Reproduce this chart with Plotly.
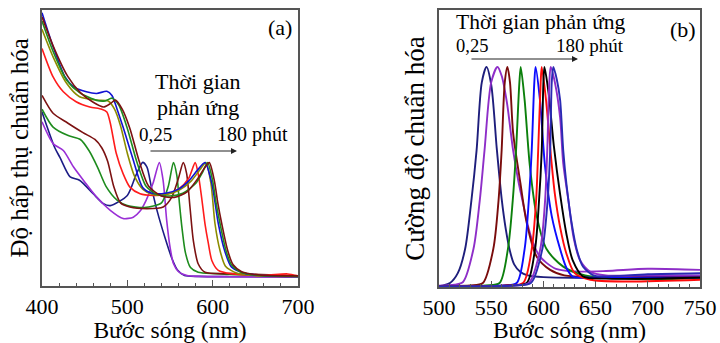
import plotly.graph_objects as go

FONT = "Liberation Serif"
W, H = 720, 343

# ---------------- Panel (a): absorption spectra ----------------
a_navy_x = [400, 415, 421, 433, 444, 460, 472, 480, 500, 510, 518, 523, 528, 535, 544, 552, 559, 567, 583, 620, 660, 700]
a_navy_y = [0.63, 0.50, 0.465, 0.394, 0.382, 0.333, 0.297, 0.29, 0.327, 0.40, 0.447, 0.43, 0.36, 0.27, 0.175, 0.10, 0.055, 0.036, 0.033, 0.032, 0.032, 0.03]

a_purple_x = [400, 413, 425, 437, 450, 464, 480, 495, 507, 515, 522, 530, 537.5, 542, 546, 550, 554, 560, 570, 585, 620, 700]
a_purple_y = [0.594, 0.515, 0.49, 0.43, 0.376, 0.321, 0.273, 0.243, 0.248, 0.27, 0.309, 0.37, 0.446, 0.38, 0.24, 0.14, 0.08, 0.05, 0.036, 0.033, 0.032, 0.03]

a_green_x = [400, 413, 430, 445, 455, 465, 475, 488, 500, 520, 540, 548, 554, 558, 561, 564, 568, 574, 583, 603, 640, 700]
a_green_y = [0.64, 0.575, 0.545, 0.53, 0.49, 0.43, 0.36, 0.31, 0.29, 0.283, 0.30, 0.36, 0.446, 0.40, 0.30, 0.21, 0.12, 0.065, 0.048, 0.043, 0.038, 0.033]

a_brown_x = [400, 413, 430, 448, 462, 470, 477, 484, 492, 503, 523, 542, 552, 560, 565.5, 569.5, 573.4, 577.3, 583, 591, 622, 700]
a_brown_y = [0.69, 0.625, 0.59, 0.555, 0.53, 0.50, 0.45, 0.36, 0.30, 0.285, 0.279, 0.285, 0.32, 0.39, 0.446, 0.406, 0.285, 0.164, 0.079, 0.048, 0.043, 0.035]

a_red_x = [400, 413, 425, 440, 456, 470, 476, 480, 487, 495, 503, 515, 530, 545, 560, 572, 579.5, 583, 587, 591, 595, 599, 606.6, 622, 660, 688, 700]
a_red_y = [0.86, 0.757, 0.703, 0.667, 0.648, 0.64, 0.63, 0.59, 0.48, 0.406, 0.357, 0.333, 0.327, 0.33, 0.35, 0.39, 0.446, 0.406, 0.321, 0.224, 0.152, 0.091, 0.055, 0.043, 0.038, 0.042, 0.035]

a_blue_x = [400, 413, 427, 437, 452, 464, 476, 482, 488, 495, 507, 518, 529, 545, 560, 572, 582, 591, 599, 606.6, 614, 622, 638, 661, 700]
a_blue_y = [0.99, 0.867, 0.757, 0.721, 0.703, 0.697, 0.705, 0.69, 0.64, 0.575, 0.455, 0.356, 0.335, 0.335, 0.35, 0.38, 0.418, 0.446, 0.371, 0.225, 0.127, 0.067, 0.044, 0.036, 0.033]

a_olive_x = [400, 413, 429, 444, 464, 478, 485, 492, 500, 508, 518, 530, 545, 560, 575, 585, 592, 598, 602.7, 608.6, 615, 628, 650, 700]
a_olive_y = [0.93, 0.83, 0.733, 0.685, 0.673, 0.669, 0.64, 0.58, 0.48, 0.40, 0.35, 0.33, 0.33, 0.345, 0.38, 0.42, 0.446, 0.37, 0.225, 0.127, 0.07, 0.045, 0.036, 0.033]

a_green2_x = [400, 413, 429, 444, 464, 474, 482, 490, 500, 511, 522, 535, 550, 565, 580, 588, 594, 600, 604, 608.6, 615.6, 622, 632, 650, 700]
a_green2_y = [0.96, 0.85, 0.745, 0.70, 0.672, 0.67, 0.68, 0.655, 0.57, 0.45, 0.36, 0.33, 0.325, 0.335, 0.37, 0.41, 0.446, 0.38, 0.30, 0.225, 0.127, 0.075, 0.05, 0.038, 0.033]

a_brown2_x = [400, 413, 430, 445, 460, 472, 480, 486, 494, 503, 514, 525, 540, 555, 570, 583, 590, 596, 602, 606, 610.6, 617.6, 624, 634, 655, 700]
a_brown2_y = [0.975, 0.87, 0.76, 0.70, 0.665, 0.648, 0.66, 0.673, 0.64, 0.57, 0.45, 0.36, 0.325, 0.32, 0.34, 0.39, 0.425, 0.446, 0.38, 0.30, 0.225, 0.127, 0.075, 0.05, 0.038, 0.035]

panel_a = [
    (a_navy_x, a_navy_y, "#1c1c86"),
    (a_purple_x, a_purple_y, "#9a2fd6"),
    (a_green_x, a_green_y, "#1e8c1e"),
    (a_brown_x, a_brown_y, "#7c1212"),
    (a_red_x, a_red_y, "#ff1c1c"),
    (a_olive_x, a_olive_y, "#8c8c00"),
    (a_blue_x, a_blue_y, "#1212d2"),
    (a_green2_x, a_green2_y, "#1e8c1e"),
    (a_brown2_x, a_brown2_y, "#7c1212"),
]

# ---------------- Panel (b): emission spectra ----------------
b_navy_x = [500, 503, 510.5, 518, 525, 531, 536, 541, 545.5, 550, 555.3, 560, 564, 568, 572, 578, 585, 600, 650, 700, 750]
b_navy_y = [0.0, 0.003, 0.015, 0.06, 0.17, 0.39, 0.62, 0.93, 1.0, 0.92, 0.63, 0.40, 0.26, 0.16, 0.10, 0.065, 0.05, 0.042, 0.04, 0.05, 0.045]

b_purple_x = [500, 515, 523, 533, 539, 543.6, 550, 556, 560, 565, 571, 576, 580, 585, 590, 596, 603, 612, 630, 660, 700, 750]
b_purple_y = [0.003, 0.008, 0.02, 0.17, 0.39, 0.62, 0.93, 1.0, 0.96, 0.84, 0.62, 0.48, 0.39, 0.28, 0.20, 0.14, 0.107, 0.08, 0.068, 0.07, 0.08, 0.075]

b_brown_x = [500, 530, 542, 552, 557, 560, 563, 565.5, 568, 571, 578, 584, 593.6, 606.5, 620, 650, 700, 750]
b_brown_y = [0.002, 0.004, 0.015, 0.17, 0.39, 0.62, 0.93, 1.0, 0.93, 0.70, 0.47, 0.29, 0.135, 0.075, 0.05, 0.042, 0.045, 0.045]

b_green_x = [500, 545, 558, 566, 570.6, 573.8, 577, 578.3, 582, 587, 593.6, 603, 619, 640, 700, 750]
b_green_y = [0.0, 0.004, 0.015, 0.17, 0.39, 0.62, 0.93, 1.0, 0.85, 0.55, 0.32, 0.17, 0.09, 0.05, 0.032, 0.038]

b_blue_x = [500, 560, 574.4, 582, 586, 588.8, 591.3, 592.5, 596.7, 601.5, 608, 616, 622, 628, 640, 700, 750]
b_blue_y = [0.0, 0.004, 0.015, 0.17, 0.39, 0.62, 0.93, 1.0, 0.85, 0.55, 0.32, 0.17, 0.085, 0.045, 0.04, 0.04, 0.04]

b_red_x = [500, 565, 580.5, 588.8, 593, 595, 597.4, 598.4, 602.5, 607.5, 611, 616, 622, 630, 645, 680, 750]
b_red_y = [0.0, 0.004, 0.015, 0.17, 0.39, 0.62, 0.93, 1.0, 0.85, 0.58, 0.42, 0.27, 0.15, 0.06, 0.03, 0.022, 0.03]

b_black_x = [500, 568, 584, 592, 595.8, 598.4, 600, 601, 605, 610, 616, 622, 628, 638, 660, 700, 750]
b_black_y = [0.0, 0.004, 0.015, 0.17, 0.39, 0.62, 0.93, 1.0, 0.88, 0.64, 0.42, 0.24, 0.12, 0.045, 0.035, 0.035, 0.04]

b_purple2_x = [500, 570, 586, 597, 601.6, 603.7, 605.7, 607, 611, 616, 619, 624, 629, 635, 645, 660, 700, 750]
b_purple2_y = [0.0, 0.004, 0.015, 0.17, 0.39, 0.62, 0.93, 1.0, 0.93, 0.77, 0.56, 0.39, 0.22, 0.12, 0.066, 0.05, 0.05, 0.05]

b_blue2_x = [500, 572, 588, 599, 604, 606.5, 608, 609.5, 613, 616, 619, 622, 627, 632, 638, 648, 657, 700, 750]
b_blue2_y = [0.0, 0.004, 0.015, 0.17, 0.39, 0.62, 0.93, 1.0, 0.94, 0.85, 0.62, 0.47, 0.29, 0.167, 0.089, 0.05, 0.045, 0.055, 0.06]

panel_b = [
    (b_navy_x, b_navy_y, "#1e1e7c"),
    (b_purple_x, b_purple_y, "#8e2ec8"),
    (b_brown_x, b_brown_y, "#7a0c0c"),
    (b_green_x, b_green_y, "#0c800c"),
    (b_blue_x, b_blue_y, "#0c0cff"),
    (b_red_x, b_red_y, "#ff0c0c"),
    (b_black_x, b_black_y, "#000000"),
    (b_purple2_x, b_purple2_y, "#8e2ec8"),
    (b_blue2_x, b_blue2_y, "#2a2ab4"),
]

fig = go.Figure()
for xs, ys, c in panel_a:
    fig.add_trace(go.Scatter(x=xs, y=ys, mode="lines", line=dict(color=c, width=1.6, shape="spline", smoothing=0.7),
                             xaxis="x", yaxis="y", hoverinfo="skip"))
for xs, ys, c in panel_b:
    fig.add_trace(go.Scatter(x=xs, y=ys, mode="lines", line=dict(color=c, width=1.9, shape="spline", smoothing=0.8),
                             xaxis="x2", yaxis="y2", hoverinfo="skip"))


def px(x):
    return x / W


def py(y):
    return 1 - y / H


axis_common = dict(showline=True, linecolor="#555555", linewidth=1.5, mirror=True, showgrid=False, zeroline=False)
tickfont = dict(family=FONT, size=22, color="black")
titlefont = dict(family=FONT, size=23.5, color="black")

fig.update_layout(
    width=W, height=H, margin=dict(l=0, r=0, t=0, b=0),
    plot_bgcolor="white", paper_bgcolor="white", showlegend=False,
    font=dict(family=FONT),
    xaxis=dict(domain=[px(42), px(298)], range=[400, 700], anchor="y",
               tick0=400, dtick=100, ticks="inside", ticklen=6, tickwidth=1.2, tickcolor="#555555",
               minor=dict(tick0=400, dtick=20, ticks="inside", ticklen=3, tickwidth=1, tickcolor="#555555"),
               tickfont=tickfont, ticklabelstandoff=0,
               title=dict(text="Bước sóng (nm)", font=titlefont, standoff=4), automargin=False, **axis_common),
    yaxis=dict(domain=[py(285.5), py(10)], range=[0, 1], anchor="x", showticklabels=False, ticks="",
               title=dict(text="Độ hấp thụ chuẩn hóa", font=dict(family=FONT, size=25, color="black"), standoff=5),
               automargin=False, **axis_common),
    xaxis2=dict(domain=[px(439), px(700)], range=[500, 750], anchor="y2",
                tick0=500, dtick=50, ticks="inside", ticklen=6, tickwidth=1.2, tickcolor="#555555",
                minor=dict(tick0=500, dtick=10, ticks="inside", ticklen=3, tickwidth=1, tickcolor="#555555"),
                tickfont=tickfont, ticklabelstandoff=0,
                title=dict(text="Bước sóng (nm)", font=titlefont, standoff=11), automargin=False, **axis_common),
    yaxis2=dict(domain=[py(287), py(10)], range=[-0.003, 1.26], anchor="x2", showticklabels=False, ticks="",
                title=dict(text="Cường độ chuẩn hóa", font=dict(family=FONT, size=27, color="black"), standoff=5),
                automargin=False, **axis_common),
)

ann = []


def txt(x, y, s, size):
    ann.append(dict(x=px(x), y=py(y), xref="paper", yref="paper", text=s, showarrow=False,
                    font=dict(family=FONT, size=size, color="black"), xanchor="center", yanchor="middle"))


def arrow(x0, x1, y):
    ann.append(dict(x=px(x1), y=py(y), xref="paper", yref="paper", ax=x0 - x1, ay=0, axref="pixel", ayref="pixel",
                    text="", showarrow=True, arrowhead=2, arrowsize=1, arrowwidth=1.2, arrowcolor="#222222"))


# panel (a)
txt(280, 28, "(a)", 22)
txt(198, 82, "Thời gian", 22)
txt(198, 107, "phản ứng", 22)
txt(155, 134, "0,25", 19)
txt(253, 134, "180 phút", 20)
arrow(149, 237, 151)
# panel (b)
txt(683, 30, "(b)", 22)
txt(541, 22, "Thời gian phản ứng", 21.5)
txt(472, 46, "0,25", 18.5)
txt(590, 46, "180 phút", 19)
arrow(470, 578, 59)

fig.update_layout(annotations=ann)
fig.write_html("out.html")
